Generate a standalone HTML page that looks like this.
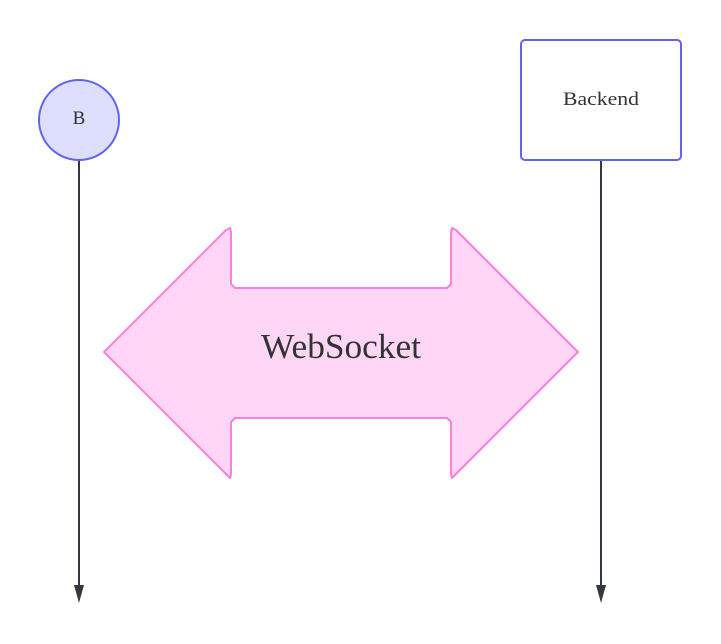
<!DOCTYPE html>
<html><head><style>html,body{margin:0;padding:0;background:#fff;}</style></head>
<body>
<svg width="721" height="639" xmlns="http://www.w3.org/2000/svg">
<line x1="79" y1="160" x2="79" y2="588" stroke="#333842" stroke-width="2"/>
<polygon points="74,585 84,585 79,603" fill="#333842"/>
<line x1="601" y1="160" x2="601" y2="588" stroke="#333842" stroke-width="2"/>
<polygon points="596,585 606,585 601,603" fill="#333842"/>
<circle cx="79" cy="120" r="40" fill="#dedeff" stroke="#6262f5" stroke-width="2"/>
<text x="79" y="124" font-family="Liberation Serif, serif" font-size="19" fill="#333" text-anchor="middle">B</text>
<rect x="521" y="40" width="160" height="120" rx="4" fill="#fff" stroke="#6262f5" stroke-width="2"/>
<text x="601" y="105" font-family="Liberation Serif, serif" font-size="19" fill="#333" text-anchor="middle" textLength="76" lengthAdjust="spacingAndGlyphs">Backend</text>
<polygon points="104,352 226,230 230,228 231,232 231,284 235,288 447,288 451,284 451,232 452,228 456,230 578,352 456,474 452,478 451,474 451,422 447,418 235,418 231,422 231,474 230,478 226,474" fill="#ffd6f5" stroke="#ff7fdc" stroke-width="2" stroke-linejoin="round"/>
<text x="341" y="358" font-family="Liberation Serif, serif" font-size="35" fill="#333" text-anchor="middle" textLength="160" lengthAdjust="spacingAndGlyphs">WebSocket</text>
</svg>
</body></html>
